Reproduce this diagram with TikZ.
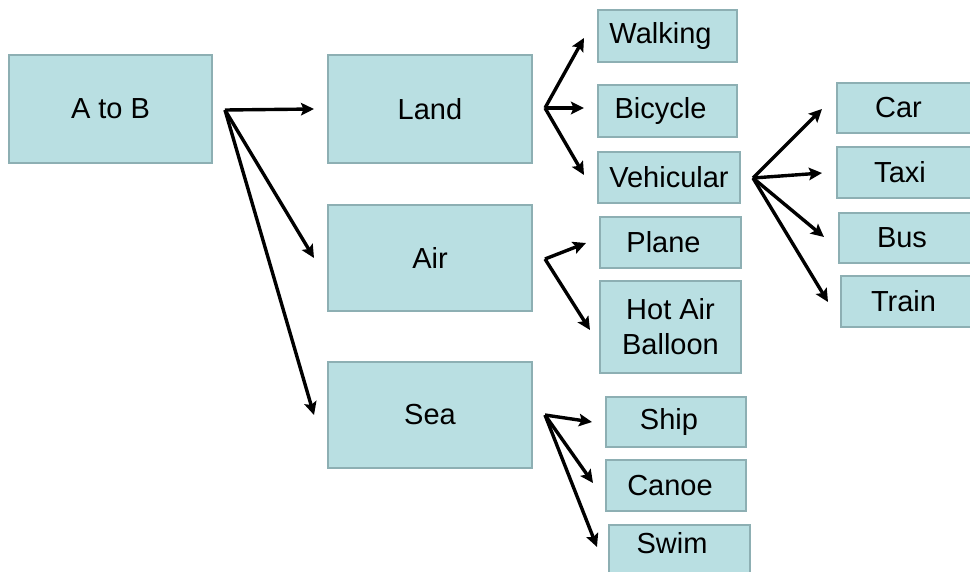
\documentclass[tikz,border=0pt]{standalone}
\usepackage{fontspec}
\setmainfont{Liberation Sans}
\usetikzlibrary{arrows.meta}
\definecolor{boxfill}{HTML}{B9DFE2}
\definecolor{boxline}{HTML}{8DAFB3}
\newcommand{\lsh}[1]{\hspace*{-14pt}#1}
\begin{document}
\begin{tikzpicture}[x=1pt,y=-1pt,
  box/.style={draw=boxline,fill=boxfill,line width=2pt,inner sep=0pt,
    font=\fontsize{29}{35}\selectfont,align=center},
  arr/.style={line width=3.4pt,-{Stealth[length=13pt,width=12.5pt,inset=2.5pt]}}]
\useasboundingbox (0,0) rectangle (970,571);
\begin{scope}
\clip (0,0) rectangle (970,571);
% big boxes
\node[box,minimum width=203pt,minimum height=108pt] (ab) at (110.5,109) {A to B};
\node[box,minimum width=204pt,minimum height=108pt] (land) at (430,109) {Land};
\node[box,minimum width=204pt,minimum height=106pt] (air) at (430,258) {Air};
\node[box,minimum width=204pt,minimum height=106pt] (sea) at (430,415) {Sea};
% land children
\node[box,minimum width=139pt,minimum height=52pt] (walk) at (667.5,36) {\lsh{Walking}};
\node[box,minimum width=139pt,minimum height=52pt] (bike) at (667.5,111) {\lsh{Bicycle}};
\node[box,minimum width=142pt,minimum height=51pt] (veh) at (669,177.5) {Vehicular};
% vehicular children
\node[box,minimum width=143pt,minimum height=50pt] (car) at (908.5,108) {\hspace*{-20pt}Car};
\node[box,minimum width=143pt,minimum height=51pt] (taxi) at (908.5,172.5) {\hspace*{-17pt}Taxi};
\node[box,minimum width=141pt,minimum height=50pt] (bus) at (909.5,238) {\hspace*{-15pt}Bus};
\node[box,minimum width=139pt,minimum height=51pt] (train) at (910.5,301.5) {\lsh{Train}};
% air children
\node[box,minimum width=141pt,minimum height=51pt] (plane) at (670.5,242.5) {\lsh{Plane}};
\node[box,minimum width=141pt,minimum height=92pt] (hab) at (670.5,327) {Hot Air\\Balloon};
% sea children
\node[box,minimum width=140pt,minimum height=50pt] (ship) at (676,422) {\lsh{Ship}};
\node[box,minimum width=140pt,minimum height=51pt] (canoe) at (676,485.5) {\hspace*{-12pt}Canoe};
\node[box,minimum width=141pt,minimum height=76pt,text height=10pt,text depth=30pt] (swim) at (679.5,563) {\hspace*{-15pt}Swim};
\end{scope}
% fork points
\coordinate (fa) at (225,110);
\coordinate (fl) at (545,108);
\coordinate (fv) at (753,178);
\coordinate (fair) at (545,259);
\coordinate (fs) at (545,415);
% arrows
\draw[arr] (fa) -- ([shift={(-13,0)}]land.west);
\draw[arr] (fa) -- ([shift={(-13,0)}]air.west);
\draw[arr] (fa) -- ([shift={(-13,0)}]sea.west);
\draw[arr] (fl) -- ([shift={(-13,2)}]walk.west);
\draw[arr] (fl) -- ([shift={(-13,-3)}]bike.west);
\draw[arr] (fl) -- ([shift={(-13,-2.5)}]veh.west);
\draw[arr] (fv) -- ([shift={(-14,1)}]car.west);
\draw[arr] (fv) -- ([shift={(-14,0.5)}]taxi.west);
\draw[arr] (fv) -- ([shift={(-14,-1)}]bus.west);
\draw[arr] (fv) -- ([shift={(-12,0.5)}]train.west);
\draw[arr] (fair) -- ([shift={(-13,0.5)}]plane.west);
\draw[arr] (fair) -- ([shift={(-9,3)}]hab.west);
\draw[arr] (fs) -- ([shift={(-13,0)}]ship.west);
\draw[arr] (fs) -- ([shift={(-12,-2.5)}]canoe.west);
\draw[arr] (fs) -- ([shift={(-11,-16)}]swim.west);
\end{tikzpicture}
\end{document}
